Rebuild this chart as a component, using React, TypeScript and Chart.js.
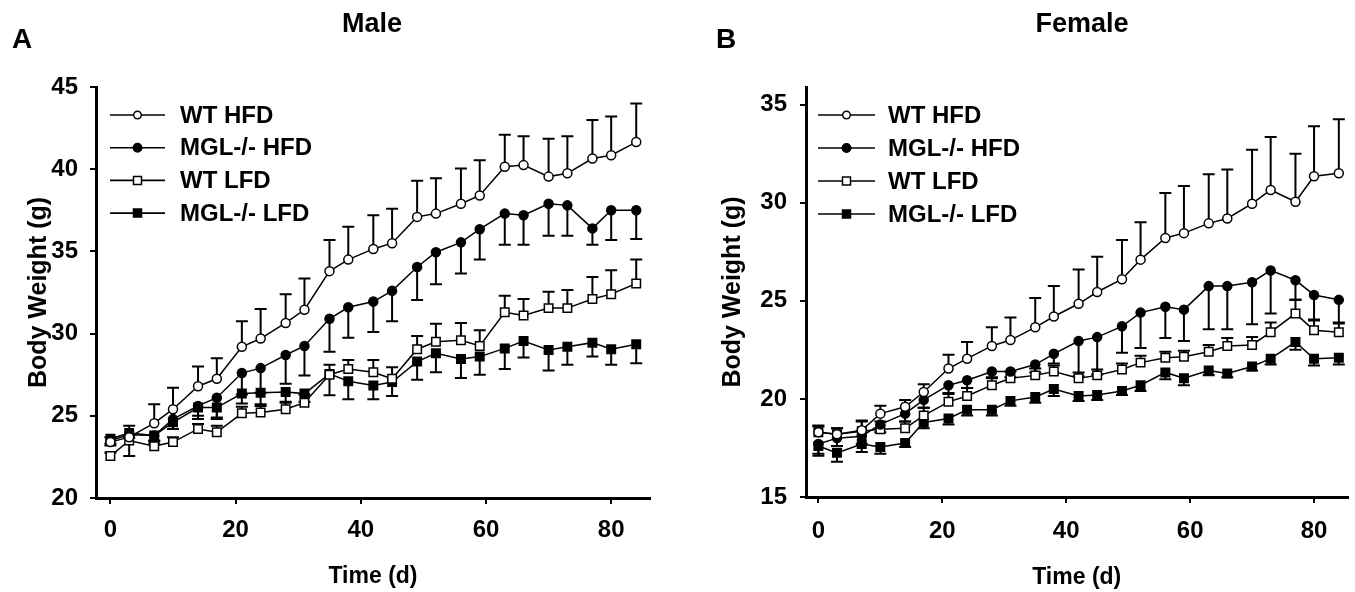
import React, { useEffect, useRef } from "react";
import { Chart, registerables } from "chart.js";

Chart.register(...registerables);

// ---------- data ----------
const days = [0, 3, 7, 10, 14, 17, 21, 24, 28, 31, 35, 38, 42, 45, 49, 52, 56, 59, 63, 66, 70, 73, 77, 80, 84];
const legendLabels = ["WT HFD", "MGL-/- HFD", "WT LFD", "MGL-/- LFD"];
const timeTicks = [0, 20, 40, 60, 80];
const maleYTicks = [20, 25, 30, 35, 40, 45];
const femaleYTicks = [15, 20, 25, 30, 35];

// Male
const maleWtHfd = [23.4, 23.7, 24.55, 25.4, 26.8, 27.25, 29.2, 29.7, 30.65, 31.45, 33.8, 34.5, 35.15, 35.5, 37.1, 37.3, 37.9, 38.4, 40.15, 40.25, 39.55, 39.75, 40.65, 40.85, 41.65];
const maleWtHfdErr = [0.3, 0.7, 1.15, 1.3, 1.2, 1.25, 1.55, 1.8, 1.75, 1.9, 1.9, 2.0, 2.05, 2.1, 2.2, 2.15, 2.15, 2.15, 1.95, 1.75, 2.3, 2.25, 2.35, 2.35, 2.35];
const maleMglHfd = [23.5, 23.85, 23.8, 24.8, 25.6, 26.1, 27.6, 27.9, 28.7, 29.25, 30.9, 31.6, 31.95, 32.6, 34.05, 34.95, 35.55, 36.35, 37.3, 37.2, 37.9, 37.8, 36.4, 37.5, 37.5];
const maleMglHfdErr = [0.3, 1.3, 0.5, 0.6, 0.8, 1.2, 1.3, 1.5, 1.75, 1.8, 2.0, 1.85, 1.85, 1.85, 2.0, 1.95, 1.9, 1.85, 1.9, 1.8, 1.95, 1.85, 1.0, 1.8, 1.75];
const maleWtLfd = [22.55, 23.5, 23.15, 23.4, 24.2, 24.0, 25.15, 25.2, 25.4, 25.8, 27.5, 27.85, 27.65, 27.25, 29.05, 29.5, 29.6, 29.25, 31.3, 31.1, 31.55, 31.55, 32.1, 32.4, 33.05];
const maleWtLfdErr = [0.2, 0.3, 0.3, 0.3, 0.3, 0.4, 0.4, 0.4, 0.4, 0.5, 0.6, 0.55, 0.75, 0.7, 0.8, 1.1, 1.05, 0.95, 1.0, 1.0, 1.0, 1.1, 1.35, 1.45, 1.45];
const maleMglLfd = [23.6, 23.95, 23.8, 24.6, 25.5, 25.5, 26.35, 26.4, 26.45, 26.35, 27.55, 27.1, 26.85, 27.05, 28.3, 28.8, 28.45, 28.6, 29.1, 29.55, 29.0, 29.2, 29.45, 29.05, 29.35];
const maleMglLfdErr = [0.3, 0.3, 0.3, 0.4, 0.5, 0.7, 0.6, 0.7, 0.6, 0.5, 1.3, 1.1, 0.85, 0.85, 1.1, 1.15, 1.15, 1.1, 1.25, 1.0, 1.25, 1.1, 0.85, 0.95, 1.15];

// Female
const femaleWtHfd = [18.3, 18.2, 18.4, 19.25, 19.6, 20.35, 21.55, 22.05, 22.7, 23.0, 23.65, 24.2, 24.85, 25.45, 26.1, 27.1, 28.2, 28.45, 28.95, 29.2, 29.95, 30.65, 30.05, 31.35, 31.5];
const femaleWtHfdErr = [0.3, 0.3, 0.5, 0.4, 0.35, 0.4, 0.7, 0.85, 0.95, 1.15, 1.5, 1.55, 1.75, 1.8, 2.0, 1.9, 2.3, 2.4, 2.5, 2.5, 2.75, 2.7, 2.45, 2.55, 2.75];
const femaleMglHfd = [17.7, 18.0, 18.1, 18.7, 19.25, 19.95, 20.7, 20.95, 21.4, 21.4, 21.75, 22.3, 22.95, 23.15, 23.7, 24.4, 24.7, 24.55, 25.75, 25.75, 25.95, 26.55, 26.05, 25.3, 25.05];
const femaleMglHfdErr = [0.5, 0.4, 0.4, 0.4, 0.4, 0.4, 0.4, 0.4, 0.3, 0.3, 0.4, 0.5, 1.8, 1.9, 1.35, 1.8, 1.6, 1.6, 2.2, 2.2, 2.15, 2.2, 1.0, 1.25, 1.2];
const femaleWtLfd = [18.3, 18.2, 18.35, 18.45, 18.5, 19.15, 19.85, 20.15, 20.7, 21.05, 21.2, 21.4, 21.05, 21.2, 21.5, 21.85, 22.1, 22.15, 22.4, 22.7, 22.75, 23.4, 24.35, 23.5, 23.4];
const femaleWtLfdErr = [0.35, 0.3, 0.5, 0.4, 0.35, 0.4, 0.4, 0.4, 0.35, 0.35, 0.35, 0.3, 0.3, 0.3, 0.3, 0.35, 0.3, 0.3, 0.35, 0.4, 0.4, 0.5, 0.7, 0.5, 0.5];
const femaleMglLfd = [17.6, 17.25, 17.7, 17.55, 17.75, 18.8, 19.0, 19.45, 19.45, 19.9, 20.1, 20.5, 20.15, 20.2, 20.4, 20.7, 21.35, 21.05, 21.45, 21.3, 21.65, 22.05, 22.9, 22.05, 22.1];
const femaleMglLfdErr = [0.5, 0.45, 0.4, 0.35, 0.2, 0.3, 0.3, 0.3, 0.3, 0.25, 0.3, 0.35, 0.25, 0.25, 0.2, 0.3, 0.35, 0.35, 0.25, 0.2, 0.2, 0.3, 0.4, 0.35, 0.35];

// ---------- styles ----------
const FONT = '"Liberation Sans", Arial, Helvetica, sans-serif';
const seriesStyles = [
  { pointStyle: "circle", fill: "#ffffff", radius: 4.5, legendR: 3.8, errDir: 1 },
  { pointStyle: "circle", fill: "#000000", radius: 4.5, legendR: 4.2, errDir: -1 },
  { pointStyle: "rect", fill: "#ffffff", radius: 6, legendR: 4, errDir: 1 },
  { pointStyle: "rect", fill: "#000000", radius: 6, legendR: 4, errDir: -1 },
];

const errorBarPlugin = {
  id: "errorBars",
  beforeDatasetsDraw(chart: any) {
    const { ctx } = chart;
    const xs = chart.scales.x;
    const ys = chart.scales.y;
    ctx.save();
    ctx.strokeStyle = "#000";
    ctx.lineWidth = 2;
    chart.data.datasets.forEach((ds: any) => {
      ds.data.forEach((p: any, j: number) => {
        const e = ds.errors[j];
        const px = xs.getPixelForValue(p.x);
        const y0 = ys.getPixelForValue(p.y);
        const y1 = ys.getPixelForValue(p.y + ds.errDir * e);
        ctx.beginPath();
        ctx.moveTo(px, y0);
        ctx.lineTo(px, y1);
        ctx.moveTo(px - 6, y1);
        ctx.lineTo(px + 6, y1);
        ctx.stroke();
      });
    });
    ctx.restore();
  },
};

function makeLegendPlugin(lg: any) {
  return {
    id: "customLegend",
    afterDraw(chart: any) {
      const { ctx } = chart;
      ctx.save();
      chart.data.datasets.forEach((ds: any, i: number) => {
        const st = seriesStyles[i];
        const y = lg.firstY + i * lg.gap;
        ctx.strokeStyle = "#000";
        ctx.lineWidth = 1.6;
        ctx.beginPath();
        ctx.moveTo(lg.lineStart, y);
        ctx.lineTo(lg.lineEnd, y);
        ctx.stroke();
        const cx = (lg.lineStart + lg.lineEnd) / 2;
        ctx.fillStyle = st.fill;
        ctx.lineWidth = 1.5;
        ctx.beginPath();
        if (st.pointStyle === "circle") {
          ctx.arc(cx, y, st.legendR, 0, Math.PI * 2);
        } else {
          ctx.rect(cx - st.legendR, y - st.legendR, st.legendR * 2, st.legendR * 2);
        }
        ctx.fill();
        ctx.stroke();
        ctx.fillStyle = "#000";
        ctx.font = `bold 24px ${FONT}`;
        ctx.textBaseline = "middle";
        ctx.textAlign = "left";
        ctx.fillText(ds.label, lg.textX, y + 1);
      });
      ctx.restore();
    },
  };
}

const panels = [
  {
    key: "male",
    left: 0,
    width: 680,
    height: 592,
    series: [
      [maleWtHfd, maleWtHfdErr],
      [maleMglHfd, maleMglHfdErr],
      [maleWtLfd, maleWtLfdErr],
      [maleMglLfd, maleMglLfdErr],
    ],
    yTicks: maleYTicks,
    xMin: -2.3,
    xMax: 86.2,
    yMin: 20,
    yMax: 45,
    padTop: 87,
    padRight: 30,
    yWidth: 96,
    xHeight: 94,
    yLabelPad: 12,
    xLabelPad: 12,
    yTitlePad: 24,
    xTitlePad: 2,
    legend: { lineStart: 110, lineEnd: 165, textX: 180, firstY: 115, gap: 32.7 },
  },
  {
    key: "female",
    left: 680,
    width: 675,
    height: 592,
    series: [
      [femaleWtHfd, femaleWtHfdErr],
      [femaleMglHfd, femaleMglHfdErr],
      [femaleWtLfd, femaleWtLfdErr],
      [femaleMglLfd, femaleMglLfdErr],
    ],
    yTicks: femaleYTicks,
    xMin: -2.0,
    xMax: 85.4,
    yMin: 15,
    yMax: 35.9,
    padTop: 87,
    padRight: 0,
    yWidth: 126,
    xHeight: 95,
    yLabelPad: 13,
    xLabelPad: 14,
    yTitlePad: 38,
    xTitlePad: 1,
    legend: { lineStart: 138, lineEnd: 195, textX: 208, firstY: 115, gap: 33 },
  },
];

function Panel({ p }: { p: any }) {
  const ref = useRef<HTMLCanvasElement>(null);
  useEffect(() => {
    const canvas = ref.current!;
    const tickFont = { family: FONT, size: 24, weight: "bold" as const };
    const chart = new Chart(canvas, {
      type: "scatter",
      data: {
        datasets: p.series.map(([vals, errs]: any, i: number) => {
          const st = seriesStyles[i];
          return {
            label: legendLabels[i],
            data: days.map((d, j) => ({ x: d, y: vals[j] })),
            errors: errs,
            errDir: st.errDir,
            showLine: true,
            borderColor: "#000",
            borderWidth: 1.5,
            pointStyle: st.pointStyle,
            pointRadius: st.radius,
            pointBackgroundColor: st.fill,
            pointBorderColor: "#000",
            pointBorderWidth: 1.5,
          } as any;
        }),
      },
      options: {
        animation: false,
        responsive: false,
        maintainAspectRatio: false,
        events: [],
        layout: { padding: { left: 0, top: p.padTop, right: p.padRight, bottom: 0 } },
        plugins: {
          legend: { display: false },
          tooltip: { enabled: false },
          title: { display: false },
        },
        scales: {
          x: {
            type: "linear",
            min: p.xMin,
            max: p.xMax,
            afterFit: (s: any) => {
              s.height = p.xHeight;
            },
            afterBuildTicks: (s: any) => {
              s.ticks = timeTicks.map((v) => ({ value: v }));
            },
            ticks: { font: tickFont, color: "#000", padding: p.xLabelPad, maxRotation: 0, autoSkip: false },
            grid: { display: true, drawOnChartArea: false, drawTicks: true, tickLength: 6, color: "#000", lineWidth: 2 },
            border: { display: true, color: "#000", width: 3 },
            title: {
              display: true,
              text: "Time (d)",
              color: "#000",
              font: { family: FONT, size: 23, weight: "bold" },
              padding: { top: 0, bottom: p.xTitlePad },
            },
          },
          y: {
            type: "linear",
            min: p.yMin,
            max: p.yMax,
            afterFit: (s: any) => {
              s.width = p.yWidth;
            },
            afterBuildTicks: (s: any) => {
              s.ticks = p.yTicks.map((v: number) => ({ value: v }));
            },
            ticks: { font: tickFont, color: "#000", padding: p.yLabelPad, autoSkip: false },
            grid: { display: true, drawOnChartArea: false, drawTicks: true, tickLength: 6, color: "#000", lineWidth: 2 },
            border: { display: true, color: "#000", width: 3 },
            title: {
              display: true,
              text: "Body Weight (g)",
              color: "#000",
              font: { family: FONT, size: 25, weight: "bold" },
              padding: { top: p.yTitlePad, bottom: 0 },
            },
          },
        },
      } as any,
      plugins: [errorBarPlugin, makeLegendPlugin(p.legend)],
    });
    return () => chart.destroy();
  }, []);
  return (
    <canvas
      ref={ref}
      width={p.width}
      height={p.height}
      style={{ position: "absolute", left: p.left, top: 0, width: p.width, height: p.height }}
    />
  );
}

const labelStyle: React.CSSProperties = {
  position: "absolute",
  fontFamily: FONT,
  fontWeight: "bold",
  lineHeight: 1,
  color: "#000",
  whiteSpace: "nowrap",
};

export default function App() {
  return (
    <div style={{ position: "absolute", left: 0, top: 0, width: 1355, height: 592, background: "#fff", overflow: "hidden" }}>
      {panels.map((p) => (
        <Panel key={p.key} p={p} />
      ))}
      <div style={{ ...labelStyle, left: 12, top: 25, fontSize: 28 }}>A</div>
      <div style={{ ...labelStyle, left: 716, top: 25, fontSize: 28 }}>B</div>
      <div style={{ ...labelStyle, left: 372, top: 10, fontSize: 27, transform: "translateX(-50%)" }}>Male</div>
      <div style={{ ...labelStyle, left: 1082, top: 10, fontSize: 27, transform: "translateX(-50%)" }}>Female</div>
    </div>
  );
}
